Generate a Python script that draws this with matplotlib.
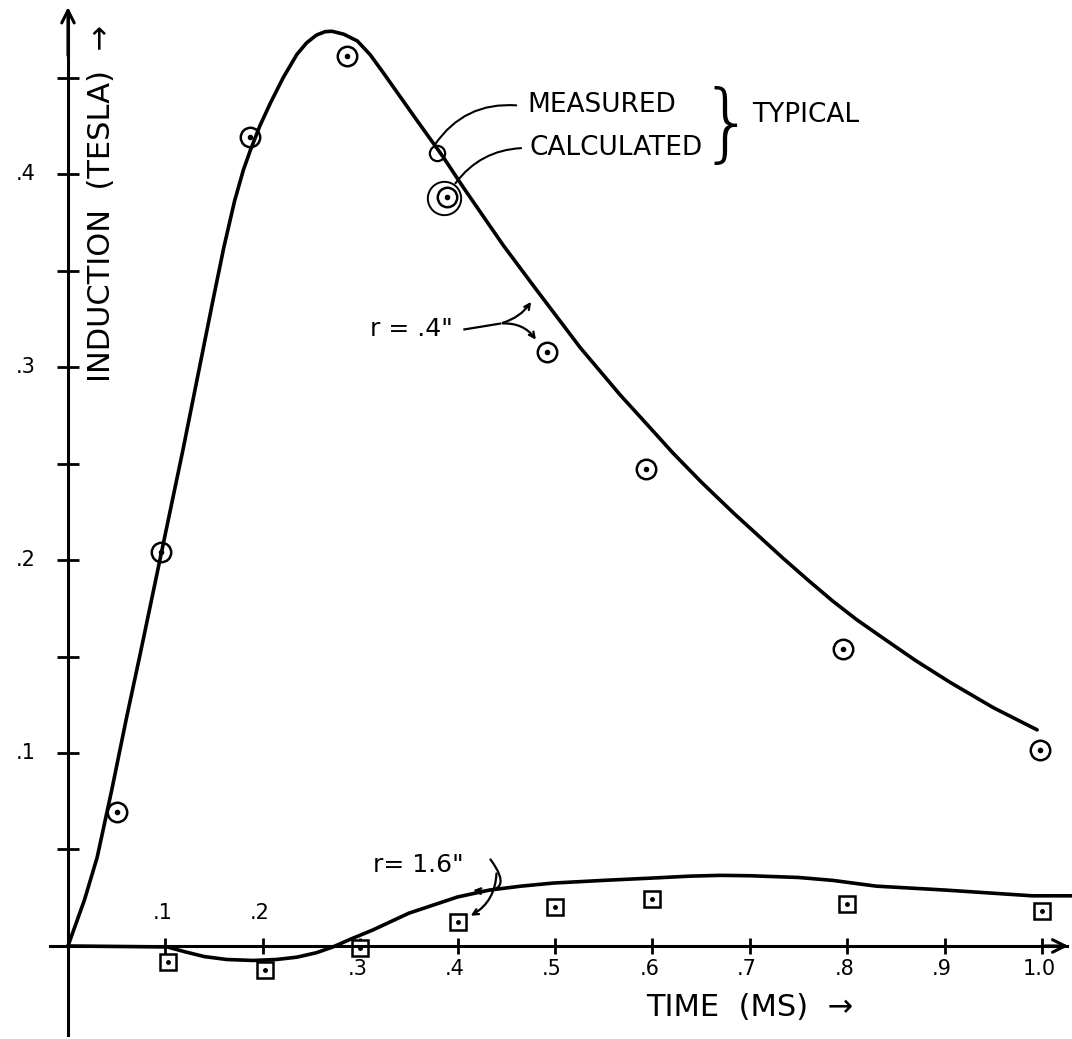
import matplotlib
matplotlib.use('Agg')
import matplotlib.pyplot as plt

# r = .4" : smooth curve
curve_x = [0.0, 0.017, 0.030, 0.045, 0.060, 0.074, 0.096, 0.118, 0.149, 0.160, 0.171,
           0.180, 0.187, 0.197, 0.208, 0.221, 0.235, 0.245, 0.255, 0.264, 0.271, 0.283,
           0.297, 0.310, 0.323, 0.358, 0.385, 0.406, 0.447, 0.481, 0.526, 0.567, 0.595,
           0.621, 0.650, 0.683, 0.734, 0.760, 0.785, 0.810, 0.837, 0.870, 0.906, 0.950,
           0.995]
curve_y = [0.0, 0.024, 0.046, 0.081, 0.118, 0.151, 0.204, 0.257, 0.335, 0.362, 0.386,
           0.402, 0.412, 0.425, 0.437, 0.450, 0.462, 0.468, 0.472, 0.4738, 0.474, 0.4725,
           0.469, 0.462, 0.453, 0.428, 0.409, 0.393, 0.363, 0.340, 0.310, 0.2855, 0.270,
           0.2555, 0.2405, 0.2245, 0.201, 0.1895, 0.1788, 0.1690, 0.1595, 0.148, 0.1365,
           0.1235, 0.112]

# r = .4" : circled points
pts_x = [0.050, 0.096, 0.187, 0.286, 0.389, 0.492, 0.593, 0.796, 0.998]
pts_y = [0.0694, 0.204, 0.419, 0.461, 0.388, 0.308, 0.247, 0.154, 0.1016]

# r = 1.6" : curve
low_x = [0.0, 0.102, 0.120, 0.140, 0.163, 0.190, 0.214, 0.235, 0.255, 0.272, 0.290, 0.313,
         0.350, 0.400, 0.433, 0.465, 0.498, 0.550, 0.600, 0.639, 0.670, 0.700, 0.750, 0.785,
         0.830, 0.900, 0.990, 1.030]
low_y = [0.0, -0.0005, -0.003, -0.0055, -0.007, -0.0075, -0.007, -0.0058, -0.0035, -0.0005,
         0.0035, 0.0083, 0.017, 0.0254, 0.029, 0.031, 0.0326, 0.034, 0.0352, 0.0362, 0.0366,
         0.0364, 0.0355, 0.034, 0.031, 0.029, 0.026, 0.026]

# r = 1.6" : squares
sq_x = [0.103, 0.202, 0.300, 0.400, 0.500, 0.600, 0.800, 1.000]
sq_y = [-0.0083, -0.0124, -0.001, 0.0124, 0.020, 0.0244, 0.0218, 0.018]

x_ticks = [0.1, 0.2, 0.3, 0.4, 0.5, 0.6, 0.7, 0.8, 0.9, 1.0]
x_tick_labels = ['.1', '.2', '.3', '.4', '.5', '.6', '.7', '.8', '.9', '1.0']
y_ticks = [0.1, 0.2, 0.3, 0.4]
y_tick_labels = ['.1', '.2', '.3', '.4']
y_minor = [0.05, 0.15, 0.25, 0.35, 0.45]

plt.rcParams['font.family'] = ['DejaVu Sans']
fig = plt.figure(figsize=(10.72, 10.39), dpi=100)
ax = fig.add_axes([0, 0, 1, 1])
ax.set_xlim(-0.0698, 1.0308)
ax.set_ylim(-0.0482, 0.4902)

# axes drawn through the origin
for s in ['top', 'right']:
    ax.spines[s].set_visible(False)
ax.spines['left'].set_position(('data', 0))
ax.spines['bottom'].set_position(('data', 0))
ax.spines['left'].set_bounds(-0.046, 0.482)
ax.spines['bottom'].set_bounds(-0.018, 1.026)
ax.spines['left'].set_linewidth(2.2)
ax.spines['bottom'].set_linewidth(2.2)
ax.set_xticks(x_ticks)
ax.set_yticks(y_ticks)
ax.set_yticks(y_minor, minor=True)
ax.set_xticklabels([])
ax.set_yticklabels([])
ax.tick_params(axis='x', direction='inout', length=12, width=2)
ax.tick_params(axis='y', which='both', direction='inout', length=16, width=2)
ax.annotate('', xy=(0, 0.488), xytext=(0, 0.46),
            arrowprops=dict(arrowstyle='->,head_length=0.9,head_width=0.45', lw=2.2, color='black'))
ax.annotate('', xy=(1.03, 0.0), xytext=(1.0, 0.0),
            arrowprops=dict(arrowstyle='->,head_length=0.9,head_width=0.45', lw=2.2, color='black'))

# tick labels (.1 and .2 sit above the axis)
for x, lab in zip(x_ticks, x_tick_labels):
    yl = 0.017 if x < 0.25 else -0.012
    ax.text(x - 0.003, yl, lab, fontsize=15, ha='center', va='center')
for y, lab in zip(y_ticks, y_tick_labels):
    ax.text(-0.043, y, lab, fontsize=15, ha='center', va='center')

# curves
ax.plot(curve_x, curve_y, color='black', lw=2.6, solid_joinstyle='round', solid_capstyle='round')
ax.plot(low_x, low_y, color='black', lw=2.6, solid_joinstyle='round', solid_capstyle='round')

# markers
ax.plot(pts_x, pts_y, 'o', ms=14, mfc='none', mec='black', mew=1.8)
ax.plot(pts_x, pts_y, 'o', ms=3, color='black')
ax.plot(sq_x, sq_y, 's', ms=12, mfc='white', mec='black', mew=1.8)
ax.plot(sq_x, sq_y, 'o', ms=2.5, color='black')

# legend-like annotation
ax.plot([0.379], [0.411], 'o', ms=11, mfc='none', mec='black', mew=1.6)
ax.plot([0.386], [0.3875], 'o', ms=24, mfc='none', mec='black', mew=1.4)
ax.text(0.472, 0.4357, 'MEASURED', fontsize=19, ha='left', va='center')
ax.text(0.474, 0.4135, 'CALCULATED', fontsize=19, ha='left', va='center')
ax.text(0.676, 0.4245, '}', fontsize=62, ha='center', va='center', fontweight='light')
ax.text(0.702, 0.4306, 'TYPICAL', fontsize=19, ha='left', va='center')
ax.annotate('', xy=(0.375, 0.414), xytext=(0.463, 0.4355),
            arrowprops=dict(arrowstyle='-', lw=1.5, color='black', connectionstyle='arc3,rad=0.3'))
ax.annotate('', xy=(0.396, 0.394), xytext=(0.468, 0.4135),
            arrowprops=dict(arrowstyle='-', lw=1.5, color='black', connectionstyle='arc3,rad=0.25'))

# r labels with arrows
ax.text(0.31, 0.3195, 'r = .4"', fontsize=18, ha='left', va='center')
ax.plot([0.407, 0.4435], [0.3195, 0.3225], color='black', lw=1.6)
ax.annotate('', xy=(0.477, 0.335), xytext=(0.4435, 0.3225),
            arrowprops=dict(arrowstyle='->', lw=1.6, color='black', connectionstyle='arc3,rad=0.2'))
ax.annotate('', xy=(0.482, 0.313), xytext=(0.4435, 0.3225),
            arrowprops=dict(arrowstyle='->', lw=1.6, color='black', connectionstyle='arc3,rad=-0.3'))

ax.text(0.313, 0.042, 'r= 1.6"', fontsize=18, ha='left', va='center')
ax.annotate('', xy=(0.413, 0.029), xytext=(0.432, 0.046),
            arrowprops=dict(arrowstyle='->', lw=1.6, color='black', connectionstyle='arc3,rad=-1.2'))
ax.annotate('', xy=(0.411, 0.015), xytext=(0.440, 0.039),
            arrowprops=dict(arrowstyle='->', lw=1.6, color='black', connectionstyle='arc3,rad=-0.3'))

# axis titles
ax.text(0.700, -0.0321, 'TIME  (MS)  →', fontsize=22, ha='center', va='center')
ax.text(0.034, 0.385, 'INDUCTION  (TESLA)  →', fontsize=22, ha='center', va='center', rotation=90)

fig.savefig('out.png', dpi=100)
